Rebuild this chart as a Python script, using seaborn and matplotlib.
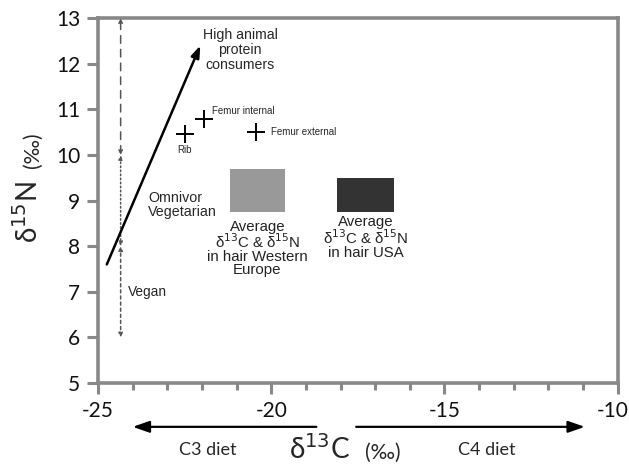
import matplotlib
matplotlib.use("Agg")
import matplotlib.pyplot as plt
import matplotlib.transforms as mtransforms
import seaborn as sns
import pandas as pd
from matplotlib.patches import Rectangle

# ---- data ----
bone_labels = ["Rib", "Femur internal", "Femur external"]
bone_d13c = [-22.5, -21.95, -20.45]
bone_d15n = [10.45, 10.8, 10.5]

hair_regions = ["Western Europe", "USA"]
hair_c_min = [-21.2, -18.1]
hair_c_max = [-19.6, -16.45]
hair_n_min = [8.75, 8.75]
hair_n_max = [9.7, 9.5]

diet_levels = [6, 8, 10, 13]  # vegan | omnivor vegetarian | high animal protein
diet_x = -24.35
trend_start = (-24.75, 7.6)
trend_end = (-22.05, 12.4)

xticks = [-25, -20, -15, -10]
yticks = [5, 6, 7, 8, 9, 10, 11, 12, 13]

sns.set_style("ticks")
plt.rcParams["font.family"] = ["Lato", "DejaVu Sans"]
plt.rcParams["axes.unicode_minus"] = False

fig = plt.figure(figsize=(6.29, 4.66), dpi=100)
ax = fig.add_axes([0.156, 0.178, 0.826, 0.783])

df = pd.DataFrame({"c": bone_d13c, "n": bone_d15n, "lab": bone_labels})
sns.scatterplot(data=df, x="c", y="n", marker="+", s=170, color="black",
                linewidth=1.4, ax=ax, legend=False, zorder=4)

ax.set_xlim(-25, -10)
ax.set_ylim(5, 13)
ax.set_xticks(xticks)
ax.set_xticks(range(-25, -9), minor=True)
ax.set_yticks(yticks)
ax.tick_params(axis="both", which="major", labelsize=15, length=8, width=2.2,
               color="#888888", labelcolor="#111111", direction="out", pad=5)
ax.tick_params(axis="x", which="minor", length=5, width=2.2, color="#888888")
for s in ax.spines.values():
    s.set_color("#888888")
    s.set_linewidth(2.6)
ax.set_xlabel("")
ax.set_ylabel("")

# keep the last x tick label inside the figure
fig.canvas.draw()
last = ax.get_xticklabels()[-1]
last.set_transform(last.get_transform() +
                   mtransforms.ScaledTranslation(-5 / 100, 0, fig.dpi_scale_trans))

# hair rectangles
cols = ["#999999", "#333333"]
for i in range(2):
    ax.add_patch(Rectangle((hair_c_min[i], hair_n_min[i]),
                           hair_c_max[i] - hair_c_min[i],
                           hair_n_max[i] - hair_n_min[i],
                           facecolor=cols[i], edgecolor="none", zorder=2))

tf = ["Liberation Sans", "DejaVu Sans"]
ax.text((hair_c_min[0] + hair_c_max[0]) / 2, 8.58,
        "Average\nδ$^{13}$C & δ$^{15}$N\nin hair Western\nEurope",
        ha="center", va="top", fontsize=10.8, family=tf, linespacing=0.92, color="#222222")
ax.text((hair_c_min[1] + hair_c_max[1]) / 2, 8.68,
        "Average\nδ$^{13}$C & δ$^{15}$N\nin hair USA",
        ha="center", va="top", fontsize=10.8, family=tf, linespacing=0.92, color="#222222")

# bone labels
ax.text(bone_d13c[0], bone_d15n[0] - 0.33, bone_labels[0], ha="center", va="center",
        fontsize=7, family=tf)
ax.text(bone_d13c[1] + 0.25, bone_d15n[1] + 0.17, bone_labels[1], ha="left",
        va="center", fontsize=7, family=tf)
ax.text(bone_d13c[2] + 0.45, bone_d15n[2], bone_labels[2], ha="left",
        va="center", fontsize=7, family=tf)

# diet ranges
styles = [(0, (2, 2)), ":", (0, (5, 4))]
for i in range(3):
    ax.annotate("", xy=(diet_x, diet_levels[i + 1]), xytext=(diet_x, diet_levels[i]),
                arrowprops=dict(arrowstyle="<|-|>,head_length=0.25,head_width=0.12",
                                linestyle=styles[i], color="#555555", lw=1.1,
                                shrinkA=0, shrinkB=0), zorder=3)
ax.text(-24.15, 7.0, "Vegan", ha="left", va="center", fontsize=9.8, family=tf)
ax.text(-23.55, 8.9, "Omnivor\nVegetarian", ha="left", va="center", fontsize=10.3,
        family=tf, linespacing=1.05)

# trend arrow
ax.annotate("", xy=trend_end, xytext=trend_start,
            arrowprops=dict(arrowstyle="-|>,head_length=0.7,head_width=0.25",
                            color="black", lw=1.8, shrinkA=0, shrinkB=0), zorder=5)
ax.text(-20.9, 12.3, "High animal\nprotein\nconsumers", ha="center", va="center",
        fontsize=10.2, family=tf, linespacing=1.1)

# diet arrows under x axis
ax.annotate("", xy=(-24.0, -0.12), xytext=(-18.7, -0.12),
            xycoords=("data", "axes fraction"), textcoords=("data", "axes fraction"),
            arrowprops=dict(arrowstyle="-|>,head_length=1.0,head_width=0.35",
                            color="black", lw=1.6, shrinkA=0, shrinkB=0),
            annotation_clip=False)
ax.annotate("", xy=(-10.95, -0.12), xytext=(-17.55, -0.12),
            xycoords=("data", "axes fraction"), textcoords=("data", "axes fraction"),
            arrowprops=dict(arrowstyle="-|>,head_length=1.0,head_width=0.35",
                            color="black", lw=1.6, shrinkA=0, shrinkB=0),
            annotation_clip=False)

fig.text(208 / 629, 1 - 450 / 466, "C3 diet", ha="center", va="center", fontsize=13)
fig.text(487 / 629, 1 - 450 / 466, "C4 diet", ha="center", va="center", fontsize=13)
fig.text(320 / 629, 1 - 449 / 466, "δ$^{13}$C", ha="center", va="center", fontsize=20)
fig.text(383 / 629, 1 - 453 / 466, "(‰)", ha="center", va="center", fontsize=15)
fig.text(28 / 629, 1 - 212 / 466, "δ$^{15}$N", ha="center", va="center", fontsize=20,
         rotation=90)
fig.text(33 / 629, 1 - 150 / 466, "(‰)", ha="center", va="center", fontsize=15,
         rotation=90)

fig.savefig("out.png", dpi=100)
